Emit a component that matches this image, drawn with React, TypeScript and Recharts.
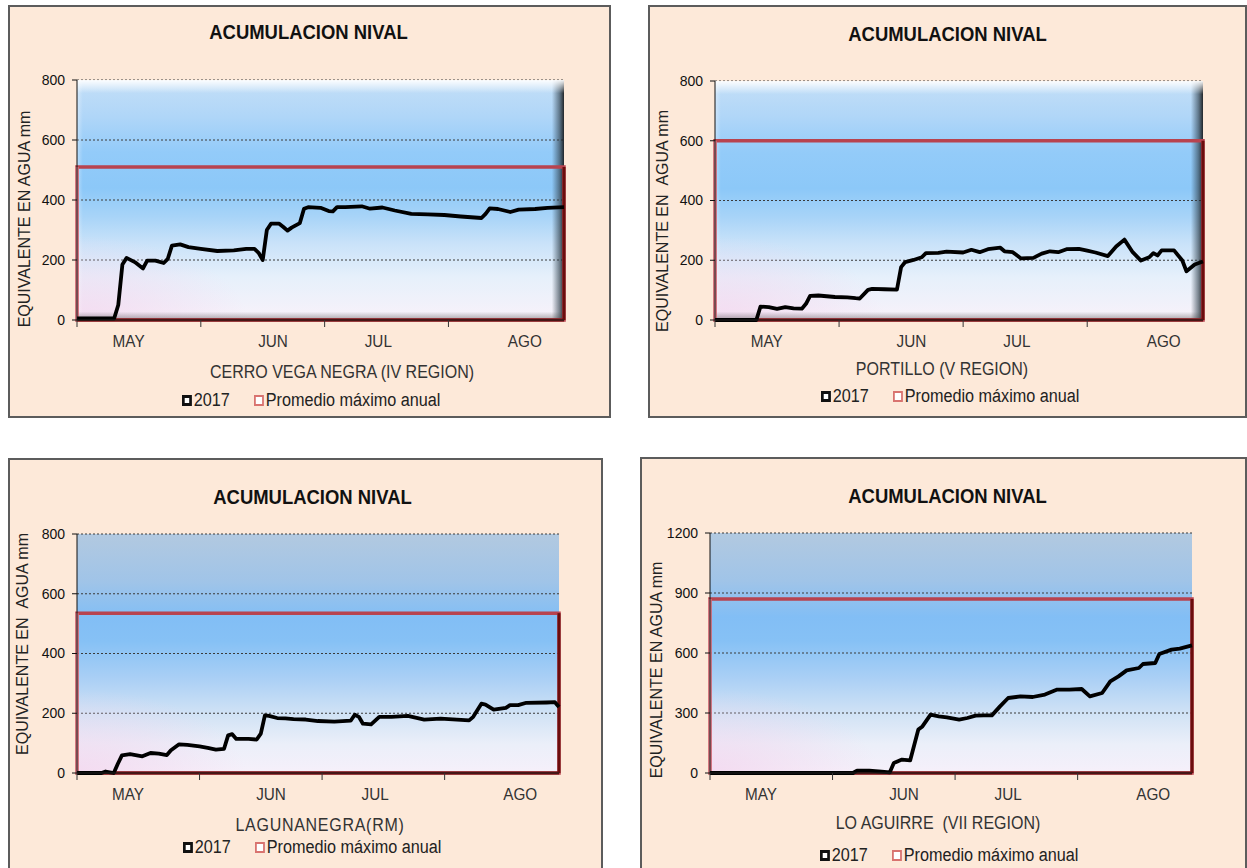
import React from "react";
import {
  LineChart,
  Line,
  XAxis,
  YAxis,
  CartesianGrid,
  ReferenceArea,
  ReferenceLine,
  Legend,
} from "recharts";

document.body.style.margin = "0";

const FONT = "'Liberation Sans', Arial, sans-serif";
const NARROW = 0.9;

const chartTitle = "ACUMULACION NIVAL";
const seriesNames = ["2017", "Promedio máximo anual"];
const seriesColors = ["#111111", "#d9736f"];
const monthNames = ["MAY", "JUN", "JUL", "AGO"];
const monthStarts = [0, 30, 60, 90];
const monthLabelDays = [12.5, 47.5, 73, 108.5];
const lastDay = 118;

const ticks800 = [0, 200, 400, 600, 800];
const ticks1200 = [0, 300, 600, 900, 1200];

// Cerro Vega Negra (IV Region)
const vegaDays = [0, 9, 10, 11, 12, 14, 16, 17, 19, 21, 22, 23, 25, 27, 30, 34, 38, 41, 43, 44, 45, 46, 47, 49, 50, 51, 52, 54, 55, 56, 59, 61, 62, 63, 65, 69, 71, 74, 77, 81, 85, 89, 93, 98, 99, 100, 102, 105, 107, 111, 114, 118];
const vegaSwe = [5, 5, 50, 185, 207, 193, 172, 198, 198, 190, 204, 248, 252, 243, 237, 230, 232, 237, 237, 224, 200, 300, 321, 321, 310, 298, 308, 323, 371, 376, 374, 363, 362, 376, 376, 379, 371, 375, 365, 354, 352, 350, 345, 340, 354, 372, 370, 360, 368, 370, 374, 376];
const vegaMax = 510;

// Portillo (V Region)
const portilloDays = [0, 10, 11, 13, 15, 17, 19, 21, 22, 23, 25, 29, 32, 34, 35, 37, 38, 41, 44, 45, 46, 48, 50, 51, 54, 56, 60, 62, 64, 66, 69, 70, 72, 74, 77, 79, 81, 83, 85, 88, 90, 92, 95, 97, 99, 101, 103, 105, 106, 107, 108, 111, 113, 114, 116, 118];
const portilloSwe = [0, 0, 45, 43, 37, 43, 39, 38, 54, 81, 82, 77, 76, 73, 72, 101, 104, 103, 102, 177, 194, 201, 210, 224, 225, 229, 226, 235, 227, 237, 242, 230, 227, 206, 208, 222, 230, 227, 237, 238, 232, 226, 214, 246, 269, 227, 199, 210, 224, 216, 233, 233, 199, 163, 186, 196];
const portilloMax = 600;

// Laguna Negra (RM)
const lagunaDays = [0, 6, 7, 9, 10, 11, 13, 16, 18, 20, 22, 23, 25, 27, 30, 32, 34, 36, 37, 38, 39, 42, 44, 45, 46, 47, 49, 51, 53, 56, 59, 63, 67, 68, 69, 70, 72, 74, 77, 81, 85, 89, 93, 96, 97, 99, 100, 102, 105, 106, 108, 110, 115, 117, 118];
const lagunaSwe = [0, 0, 5, 0, 31, 59, 63, 56, 67, 65, 60, 76, 96, 94, 89, 84, 78, 81, 126, 130, 114, 114, 112, 132, 193, 191, 184, 183, 180, 179, 174, 172, 175, 195, 188, 165, 163, 188, 188, 191, 179, 182, 179, 176, 188, 232, 229, 212, 218, 227, 227, 235, 236, 237, 221];
const lagunaMax = 535;

// Lo Aguirre (VII Region)
const aguirreDays = [0, 35, 36, 39, 42, 44, 45, 47, 49, 51, 52, 54, 56, 58, 61, 63, 65, 67, 69, 71, 73, 76, 79, 82, 85, 88, 91, 93, 96, 98, 100, 102, 105, 106, 109, 110, 113, 115, 118];
const aguirreSwe = [0, 0, 12, 12, 7, 3, 50, 67, 63, 217, 233, 292, 283, 278, 267, 275, 287, 288, 288, 333, 375, 383, 380, 392, 417, 417, 420, 383, 400, 458, 483, 513, 525, 545, 550, 595, 617, 622, 638];
const aguirreMax = 870;

const stations = [
  { name: "CERRO VEGA NEGRA (IV REGION)", yTitle: "EQUIVALENTE EN AGUA mm", days: vegaDays, swe: vegaSwe, max: vegaMax, yTicks: ticks800 },
  { name: "PORTILLO (V REGION)", yTitle: "EQUIVALENTE EN\u00a0\u00a0AGUA mm", days: portilloDays, swe: portilloSwe, max: portilloMax, yTicks: ticks800 },
  { name: "LAGUNANEGRA(RM)", yTitle: "EQUIVALENTE EN\u00a0\u00a0AGUA mm", days: lagunaDays, swe: lagunaSwe, max: lagunaMax, yTicks: ticks800 },
  { name: "LO AGUIRRE\u00a0\u00a0(VII REGION)", yTitle: "EQUIVALENTE EN AGUA mm", days: aguirreDays, swe: aguirreSwe, max: aguirreMax, yTicks: ticks1200 },
];

const bgA = [
  [0, "#c4dff7"], [0.15, "#b0d6f8"], [0.3, "#93cbf9"], [0.45, "#8cc8f8"],
  [0.57, "#a8d4f8"], [0.68, "#c9e2f9"], [0.82, "#e6f0fb"], [1, "#f8f2fa"],
];
const bgB = [
  [0, "#b2c9e0"], [0.2, "#a0c4e8"], [0.35, "#82bef5"], [0.45, "#86c1f5"],
  [0.6, "#a9cff5"], [0.75, "#d0e2f5"], [0.88, "#ebeff9"], [1, "#f6f0fa"],
];

const layouts = [
  { box: { x: 8, y: 5, w: 603, h: 413 }, plot: { l: 77, t: 80, r: 564, b: 320 }, titleCy: 32, titleDx: -1, subCx: 342, subCy: 372, legendX: 182, legendCy: 400, yLabelCx: 24, yLabelCy: 219, bg: bgA, bevel: true },
  { box: { x: 648, y: 5, w: 599, h: 413 }, plot: { l: 715, t: 81, r: 1203, b: 320 }, titleCy: 34, titleDx: 0, subCx: 942, subCy: 369, legendX: 821, legendCy: 396, yLabelCx: 662, yLabelCy: 221, bg: bgA, bevel: true },
  { box: { x: 8, y: 458, w: 595, h: 420 }, plot: { l: 77, t: 534, r: 559, b: 773 }, titleCy: 497, titleDx: 7, subCx: 320, subCy: 825, legendX: 183, legendCy: 847, yLabelCx: 22, yLabelCy: 644, bg: bgB, bevel: false },
  { box: { x: 640, y: 457, w: 607, h: 420 }, plot: { l: 710, t: 533, r: 1192, b: 773 }, titleCy: 496, titleDx: 4, subCx: 938, subCy: 823, legendX: 820, legendCy: 855, yLabelCx: 656, yLabelCy: 670, bg: bgB, bevel: false },
];

const MonthTick = (props: any) => {
  const { x, y, payload } = props;
  const i = monthLabelDays.indexOf(payload.value);
  if (i < 0) {
    return <line x1={x} x2={x} y1={y - 8} y2={y - 1} stroke="#333" strokeWidth={1} />;
  }
  return (
    <g transform={`translate(${x},${y + 13}) scale(${NARROW},1)`}>
      <text x={0} y={0} textAnchor="middle" dominantBaseline="central" fontFamily={FONT} fontSize={17} fill="#333">
        {monthNames[i]}
      </text>
    </g>
  );
};

const LegendBody = () => (
  <div
    style={{
      display: "flex",
      alignItems: "center",
      fontFamily: FONT,
      fontSize: 18,
      color: "#222",
      whiteSpace: "nowrap",
      lineHeight: "20px",
      transform: `scaleX(${NARROW})`,
      transformOrigin: "left center",
    }}
  >
    {seriesNames.map((n, i) => (
      <React.Fragment key={n}>
        <span
          style={{
            display: "inline-block",
            width: 11,
            height: 11,
            boxSizing: "border-box",
            border: `${i === 0 ? 3 : 2.2}px solid ${seriesColors[i]}`,
            background: "#fff",
            marginLeft: i === 0 ? 0 : 27,
            marginRight: 2,
          }}
        />
        <span>{n}</span>
      </React.Fragment>
    ))}
  </div>
);

function Panel({ st, lay, idx }: { st: any; lay: any; idx: number }) {
  const { box, plot } = lay;
  const data = st.days.map((d: number, i: number) => ({ day: d, swe: st.swe[i] }));
  const xH = 62;
  const yW = plot.l - box.x - 2;
  const margin = {
    top: plot.t - box.y,
    left: 2,
    right: box.x + box.w - plot.r,
    bottom: box.y + box.h - plot.b - xH,
  };
  const yMax = st.yTicks[st.yTicks.length - 1];
  const xTicks = [...monthStarts, ...monthLabelDays].sort((a, b) => a - b);

  return (
    <>
      <div
        style={{
          position: "absolute",
          left: box.x,
          top: box.y,
          width: box.w,
          height: box.h,
          boxSizing: "border-box",
          border: "2px solid #5c5c5c",
          background: "#fde9d9",
        }}
      />
      <div style={{ position: "absolute", left: box.x }}>
        <div style={{ position: "absolute", top: box.y }}>
          <LineChart width={box.w} height={box.h} data={data} margin={margin}>
            <defs>
              <linearGradient id={`bg${idx}`} x1="0" y1="0" x2="0" y2="1">
                {lay.bg.map((s: any) => (
                  <stop key={s[0]} offset={s[0]} stopColor={s[1]} />
                ))}
              </linearGradient>
              <radialGradient id={`pink${idx}`} cx="0" cy="1" r="0.35">
                <stop offset="0" stopColor="#f3d6ee" stopOpacity={0.8} />
                <stop offset="1" stopColor="#f3d6ee" stopOpacity={0} />
              </radialGradient>
              <linearGradient id={`side${idx}`} x1="0" y1="0" x2="1" y2="0">
                <stop offset="0" stopColor="#ffffff" stopOpacity={0.35} />
                <stop offset="0.012" stopColor="#ffffff" stopOpacity={0} />
                <stop offset="0.975" stopColor="#30404c" stopOpacity={0} />
                <stop offset="0.99" stopColor="#30404c" stopOpacity={0.6} />
                <stop offset="1" stopColor="#111111" stopOpacity={0.9} />
              </linearGradient>
              <linearGradient id={`top${idx}`} x1="0" y1="0" x2="0" y2="1">
                <stop offset="0" stopColor="#ffffff" stopOpacity={0.95} />
                <stop offset="0.035" stopColor="#ffffff" stopOpacity={0.35} />
                <stop offset="0.055" stopColor="#ffffff" stopOpacity={0} />
                <stop offset="0.965" stopColor="#444444" stopOpacity={0} />
                <stop offset="1" stopColor="#444444" stopOpacity={0.45} />
              </linearGradient>
            </defs>
            <CartesianGrid
              vertical={false}
              stroke="#3a3a3a"
              strokeDasharray="2 2"
              fill={`url(#bg${idx})`}
              fillOpacity={1}
            />
            <CartesianGrid horizontal={false} vertical={false} fill={`url(#pink${idx})`} fillOpacity={1} />
            {lay.bevel && (
              <CartesianGrid horizontal={false} vertical={false} fill={`url(#side${idx})`} fillOpacity={1} />
            )}
            {lay.bevel && (
              <CartesianGrid horizontal={false} vertical={false} fill={`url(#top${idx})`} fillOpacity={1} />
            )}
            <XAxis
              dataKey="day"
              type="number"
              domain={[0, lastDay]}
              ticks={xTicks}
              interval={0}
              tickLine={false}
              tick={<MonthTick />}
              axisLine={{ stroke: "#222" }}
              height={xH}
              label={() => (
                <g transform={`translate(${lay.subCx - box.x},${lay.subCy - box.y}) scale(${NARROW},1)`}>
                  <text
                    x={0}
                    y={0}
                    textAnchor="middle"
                    dominantBaseline="central"
                    fontFamily={FONT}
                    fontSize={17.8}
                    fill="#333"
                    letterSpacing={idx === 2 ? 0.8 : 0}
                  >
                    {st.name}
                  </text>
                </g>
              )}
            />
            <YAxis
              type="number"
              domain={[0, yMax]}
              ticks={st.yTicks}
              interval={0}
              width={yW}
              tickSize={5}
              tickMargin={7}
              axisLine={{ stroke: "#111" }}
              tickLine={{ stroke: "#111" }}
              tick={{ fontFamily: FONT, fontSize: 14, fill: "#111" }}
              label={() => {
                const cx = lay.yLabelCx - box.x;
                const cy = lay.yLabelCy - box.y;
                return (
                  <text
                    x={cx}
                    y={cy}
                    transform={`rotate(-90 ${cx} ${cy})`}
                    textAnchor="middle"
                    dominantBaseline="central"
                    fontFamily={FONT}
                    fontSize={16}
                    fill="#222"
                  >
                    {st.yTitle}
                  </text>
                );
              }}
            />
            <ReferenceArea
              x1={0}
              x2={lastDay}
              y1={0}
              y2={st.max}
              fill="none"
              fillOpacity={0}
              stroke="#b8434f"
              strokeWidth={3.5}
            />
            <ReferenceLine
              segment={[
                { x: 0, y: 0 },
                { x: 0, y: st.max },
              ]}
              stroke="#e08590"
              strokeWidth={3}
            />
            <ReferenceLine y={0} stroke="#6b0d0d" strokeWidth={3} />
            <ReferenceLine
              segment={[
                { x: lastDay, y: 0 },
                { x: lastDay, y: st.max },
              ]}
              stroke="#6b0d0d"
              strokeWidth={3}
            />
            <Line
              type="linear"
              dataKey="swe"
              name={seriesNames[0]}
              stroke="#000"
              strokeWidth={3.8}
              strokeLinejoin="round"
              dot={false}
              isAnimationActive={false}
            />
            <Legend
              layout="horizontal"
              verticalAlign="middle"
              align="center"
              content={() => <LegendBody />}
              wrapperStyle={{
                left: lay.legendX - box.x,
                top: lay.legendCy - box.y - 10,
                width: "auto",
                height: 20,
              }}
            />
          </LineChart>
        </div>
      </div>
      <div
        style={{
          position: "absolute",
          left: box.x + lay.titleDx,
          top: lay.titleCy - 12,
          width: box.w,
          textAlign: "center",
          fontFamily: FONT,
          fontSize: 20.5,
          fontWeight: "bold",
          lineHeight: "24px",
          color: "#111",
          transform: `scaleX(${NARROW})`,
        }}
      >
        {chartTitle}
      </div>
    </>
  );
}

export default function App() {
  return (
    <div style={{ position: "relative", width: 1247, height: 868, overflow: "hidden", background: "#fff" }}>
      {stations.map((st, i) => (
        <Panel key={st.name} st={st} lay={layouts[i]} idx={i} />
      ))}
    </div>
  );
}
